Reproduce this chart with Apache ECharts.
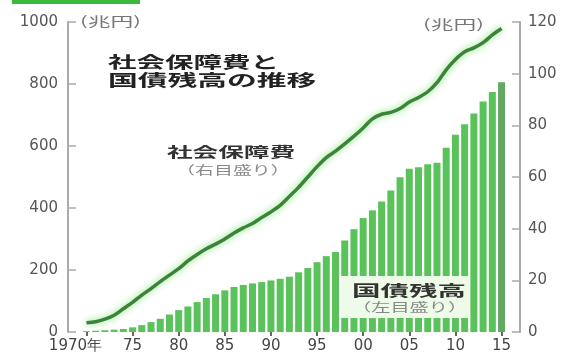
<!DOCTYPE html>
<html>
<head>
<meta charset="utf-8">
<script src="https://cdn.jsdelivr.net/npm/echarts@6/dist/echarts.min.js"></script>
<style>
  html, body { margin: 0; padding: 0; background: #fff; }
  #chart { width: 565px; height: 360px; }
</style>
</head>
<body>
<div id="chart"></div>
<script>
// Fiscal years 1970–2015
var years = [1970, 1971, 1972, 1973, 1974, 1975, 1976, 1977, 1978, 1979,
             1980, 1981, 1982, 1983, 1984, 1985, 1986, 1987, 1988, 1989,
             1990, 1991, 1992, 1993, 1994, 1995, 1996, 1997, 1998, 1999,
             2000, 2001, 2002, 2003, 2004, 2005, 2006, 2007, 2008, 2009,
             2010, 2011, 2012, 2013, 2014, 2015];

// 国債残高 (兆円, left scale)
var debt = [2.8, 4.0, 5.8, 7.5, 9.7, 15.0, 22.1, 31.9, 42.6, 56.3,
            70.5, 82.3, 96.5, 109.7, 121.7, 134.4, 145.1, 151.8, 156.8, 160.9,
            166.3, 171.6, 178.4, 192.5, 206.6, 225.2, 244.7, 258.0, 295.2, 331.7,
            367.6, 392.4, 421.1, 456.8, 499.0, 526.9, 531.7, 541.5, 545.9, 594.0,
            636.3, 669.9, 705.0, 743.9, 774.1, 805.4];

// 社会保障費 (兆円, right scale)
var social = [3.6, 4.0, 5.0, 6.5, 9.0, 11.5, 14.3, 16.8, 19.5, 22.0,
              24.5, 27.5, 30.0, 32.2, 34.0, 36.0, 38.3, 40.3, 42.0, 44.3,
              46.5, 49.0, 52.5, 56.0, 60.0, 64.0, 67.5, 70.0, 72.8, 75.8,
              79.0, 82.5, 84.3, 85.0, 86.5, 89.0, 90.8, 93.0, 96.5, 101.5,
              105.5, 108.5, 110.0, 112.0, 115.0, 117.5];

// Labelled years on the horizontal axis
var tickYears = [1970, 1975, 1980, 1985, 1990, 1995, 2000, 2005, 2010, 2015];

var JP = '"Noto Sans CJK JP", "Noto Sans", sans-serif';
var NUM = '"DejaVu Sans", sans-serif';

var barData = years.map(function (y, i) {
  var item = { value: [y, debt[i]] };
  if (i === years.length - 1) item.itemStyle = { color: '#62a862' };
  return item;
});
var lineData = years.map(function (y, i) { return [y, social[i]]; });

// Horizontally widened text block
function wideText(x, y, text, size, weight, color, sx) {
  return {
    type: 'text', x: x, y: y, scaleX: sx, z: 101,
    style: {
      text: text, fill: color,
      font: weight + ' ' + size + 'px ' + JP,
      textAlign: 'left', textVerticalAlign: 'middle'
    }
  };
}

var chart = echarts.init(document.getElementById('chart'), null, { renderer: 'canvas' });
chart.setOption({
  animation: false,
  backgroundColor: '#ffffff',
  grid: { left: 68, right: 45, top: 22, bottom: 28 },
  xAxis: {
    type: 'value', min: 1968, max: 2017,
    axisLine: { show: false },
    splitLine: { show: false },
    axisTick: {
      show: true, customValues: tickYears, length: 4,
      lineStyle: { color: '#333', width: 1.5 }
    },
    axisLabel: {
      customValues: tickYears, margin: 7,
      fontFamily: NUM, fontSize: 15, color: '#444',
      formatter: function (v) {
        if (v === 1970) return '{a|1970年}';
        var s = String(v % 100);
        return s.length < 2 ? '0' + s : s;
      },
      rich: { a: { fontFamily: NUM, fontSize: 15, color: '#444', padding: [0, 22, 0, 0] } }
    }
  },
  yAxis: [
    {
      type: 'value', min: 0, max: 1000, interval: 200, position: 'left',
      axisLine: { show: true, lineStyle: { color: '#aaa', width: 2 } },
      axisTick: { show: true, inside: true, length: 8, lineStyle: { color: '#aaa', width: 1.5 } },
      axisLabel: { margin: 10, fontFamily: NUM, fontSize: 15, color: '#555', formatter: function (v) { return String(v); } },
      splitLine: { show: false }
    },
    {
      type: 'value', min: 0, max: 120, interval: 20, position: 'right',
      axisLine: { show: true, lineStyle: { color: '#aaa', width: 2 } },
      axisTick: { show: true, inside: true, length: 8, lineStyle: { color: '#aaa', width: 1.5 } },
      axisLabel: { margin: 8, fontFamily: NUM, fontSize: 15, color: '#555' },
      splitLine: { show: false }
    }
  ],
  series: [
    {
      type: 'bar', yAxisIndex: 0, barWidth: 7,
      itemStyle: { color: '#5ac25a' },
      data: barData, z: 2
    },
    {
      type: 'line', yAxisIndex: 1, smooth: 0.3, symbol: 'none',
      lineStyle: {
        color: '#3b853b', width: 3.5,
        shadowColor: 'rgba(120, 225, 110, 0.95)', shadowBlur: 7
      },
      data: lineData, z: 5
    }
  ],
  graphic: [
    { type: 'rect', z: 100, shape: { x: 12, y: 0, width: 128, height: 4 }, style: { fill: '#3cb83c' } },
    wideText(80, 21, '(兆円)', 13, 'normal', '#777', 1.75),
    wideText(423, 24, '(兆円)', 13, 'normal', '#777', 1.75),
    wideText(108, 62, '社会保障費と', 16, 'bold', '#222', 1.78),
    wideText(108, 80, '国債残高の推移', 16, 'bold', '#222', 1.86),
    wideText(167, 152, '社会保障費', 14, 'bold', '#333', 1.83),
    wideText(176, 170, '（右目盛り）', 12, 'normal', '#888', 1.58),
    { type: 'rect', z: 100, shape: { x: 341, y: 276, width: 129, height: 42 }, style: { fill: '#effbe9' } },
    wideText(352, 290, '国債残高', 15, 'bold', '#333', 1.9),
    wideText(352, 307, '（左目盛り）', 12, 'normal', '#888', 1.6)
  ]
});
</script>
</body>
</html>
